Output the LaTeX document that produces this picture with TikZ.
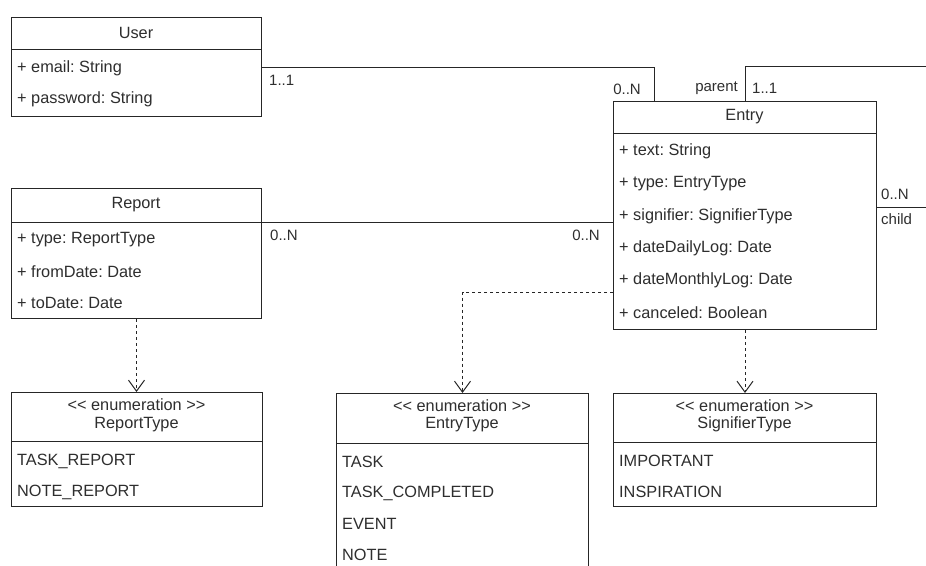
\documentclass[tikz,border=0pt]{standalone}
\usepackage{fontspec}
\setmainfont{Liberation Sans}
\usetikzlibrary{arrows.meta}
% guillemet-free stereotype brackets
\newcommand\stL{<\kern0pt<}
\newcommand\stR{>\kern0pt>}
\begin{document}
\frenchspacing
\begin{tikzpicture}[x=1pt,y=-1pt,
  umlbox/.style={draw=black!85, line width=1pt, fill=white, inner sep=0pt, anchor=north west},
  ttl/.style={inner sep=0pt, text=black!82, font=\fontsize{16.3}{17.5}\selectfont\frenchspacing, align=center},
  row/.style={inner sep=0pt, anchor=west, text=black!82, font=\fontsize{16.3}{19}\selectfont\frenchspacing},
  mult/.style={inner sep=0pt, text=black!82, font=\fontsize{15}{18}\selectfont},
  assoc/.style={draw=black!85, line width=1pt},
  dep/.style={draw=black!85, line width=1pt, dash pattern=on 3pt off 3pt,
    -{Straight Barb[length=11pt,width=16pt]}}
]
\useasboundingbox (0,0) rectangle (926,565);
\clip (0,0) rectangle (926,565);

% ---- User ----
\node[umlbox, minimum width=250pt, minimum height=99pt] (user) at (11,17) {};
\draw[black!85, line width=1pt] ([yshift=-32pt]user.north west) -- ([yshift=-32pt]user.north east);
\node[ttl] (user-t) at (136,33) {User};
\node[row] (user-a1) at (17,68) {+ email: String};
\node[row] (user-a2) at (17,99) {+ password: String};

% ---- Entry ----
\node[umlbox, minimum width=263pt, minimum height=228pt] (entry) at (613,101) {};
\draw[black!85, line width=1pt] ([yshift=-32pt]entry.north west) -- ([yshift=-32pt]entry.north east);
\node[ttl] (entry-t) at (744.5,117) {Entry};
\node[row] (entry-a1) at (619,151) {+ text: String};
\node[row] (entry-a2) at (619,183.4) {+ type: EntryType};
\node[row] (entry-a3) at (619,215.8) {+ signifier: SignifierType};
\node[row] (entry-a4) at (619,248.2) {+ dateDailyLog: Date};
\node[row] (entry-a5) at (619,280.6) {+ dateMonthlyLog: Date};
\node[row] (entry-a6) at (619,313) {+ canceled: Boolean};

% ---- Report ----
\node[umlbox, minimum width=250pt, minimum height=130pt] (report) at (11,188) {};
\draw[black!85, line width=1pt] ([yshift=-34pt]report.north west) -- ([yshift=-34pt]report.north east);
\node[ttl] (report-t) at (136,205) {Report};
\node[row] (report-a1) at (17,240) {+ type: ReportType};
\node[row] (report-a2) at (17,271.5) {+ fromDate: Date};
\node[row] (report-a3) at (17,303) {+ toDate: Date};

% ---- ReportType ----
\node[umlbox, minimum width=251pt, minimum height=114pt] (reporttype) at (11,392) {};
\draw[black!85, line width=1pt] ([yshift=-49pt]reporttype.north west) -- ([yshift=-49pt]reporttype.north east);
\node[ttl] (reporttype-t) at (136.5,415.5) {\stL{} enumeration \stR\\ReportType};
\node[row] (reporttype-v1) at (17,461) {TASK\_REPORT};
\node[row] (reporttype-v2) at (17,492) {NOTE\_REPORT};

% ---- EntryType (runs past the lower edge) ----
\node[umlbox, minimum width=252pt, minimum height=200pt] (entrytype) at (336,393) {};
\draw[black!85, line width=1pt] ([yshift=-50pt]entrytype.north west) -- ([yshift=-50pt]entrytype.north east);
\node[ttl] (entrytype-t) at (462,416) {\stL{} enumeration \stR\\EntryType};
\node[row] (entrytype-v1) at (342,462) {TASK};
\node[row] (entrytype-v2) at (342,493) {TASK\_COMPLETED};
\node[row] (entrytype-v3) at (342,524) {EVENT};
\node[row] (entrytype-v4) at (342,555) {NOTE};

% ---- SignifierType ----
\node[umlbox, minimum width=263pt, minimum height=113pt] (sigtype) at (613,393) {};
\draw[black!85, line width=1pt] ([yshift=-49pt]sigtype.north west) -- ([yshift=-49pt]sigtype.north east);
\node[ttl] (sigtype-t) at (744.5,416) {\stL{} enumeration \stR\\SignifierType};
\node[row] (sigtype-v1) at (619,461) {IMPORTANT};
\node[row] (sigtype-v2) at (619,492) {INSPIRATION};

% ---- associations ----
\draw[assoc] (user.east) -| ([xshift=41pt]entry.north west);
\coordinate (rp) at ([yshift=-34pt]report.north east);
\draw[assoc] (rp) -- (rp -| entry.west);
\coordinate (lp) at ([xshift=132pt]entry.north west);
\coordinate (lc) at ([yshift=-106pt]entry.north east);
\coordinate (far) at (940,66);
\draw[assoc] (lp) |- (far) |- (lc);

% ---- dependencies ----
\draw[dep] (report.south) -- (report.south |- reporttype.north);
\coordinate (ed) at ([yshift=-191pt]entry.north west);
\draw[dep] (ed) -| (entrytype.north);
\draw[dep] (entry.south) -- (sigtype.north);

% ---- multiplicities and roles ----
\node[mult, anchor=west] (m1) at (269,80) {1..1};
\node[mult, anchor=east] (m2) at (641,89) {0..N};
\node[mult, anchor=east] (m3) at (738,88) {parent};
\node[mult, anchor=west] (m4) at (752,88) {1..1};
\node[mult, anchor=west] (m5) at (881,194) {0..N};
\node[mult, anchor=west] (m6) at (881,219) {child};
\node[mult, anchor=west] (m7) at (270,235) {0..N};
\node[mult, anchor=east] (m8) at (600,235) {0..N};
\end{tikzpicture}
\end{document}
